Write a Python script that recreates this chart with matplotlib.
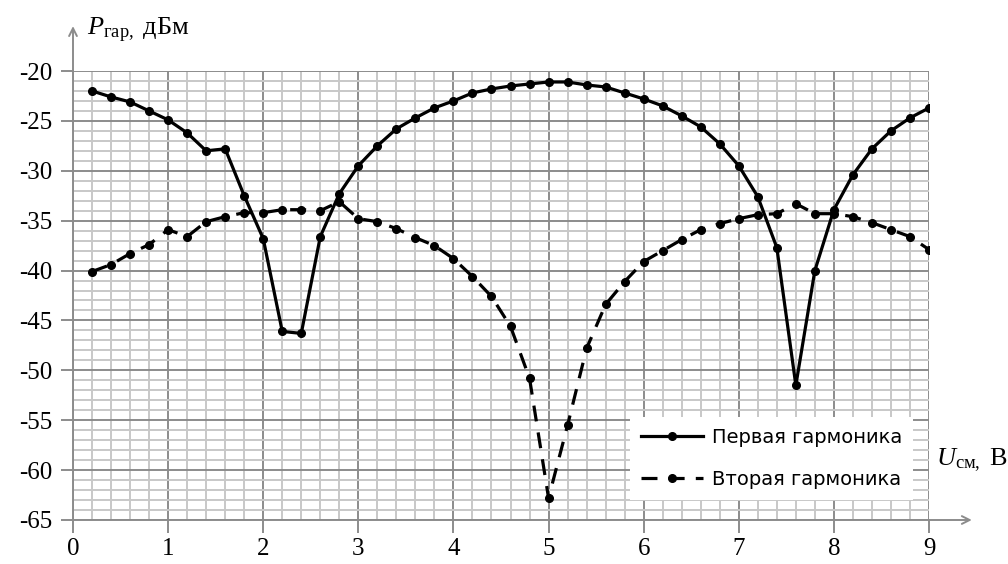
import matplotlib
matplotlib.use("Agg")
import matplotlib.pyplot as plt
from matplotlib.ticker import MultipleLocator

# bias voltage, V
u_bias = [0.2, 0.4, 0.6, 0.8, 1.0, 1.2, 1.4, 1.6, 1.8, 2.0,
          2.2, 2.4, 2.6, 2.8, 3.0, 3.2, 3.4, 3.6, 3.8, 4.0,
          4.2, 4.4, 4.6, 4.8, 5.0, 5.2, 5.4, 5.6, 5.8, 6.0,
          6.2, 6.4, 6.6, 6.8, 7.0, 7.2, 7.4, 7.6, 7.8, 8.0,
          8.2, 8.4, 8.6, 8.8, 9.0]

# first harmonic, dBm
p_first = [-22.0, -22.6, -23.1, -24.0, -24.9, -26.2, -28.0, -27.8, -32.5, -36.8,
           -46.1, -46.3, -36.6, -32.3, -29.5, -27.5, -25.8, -24.7, -23.7, -23.0,
           -22.2, -21.8, -21.5, -21.3, -21.1, -21.1, -21.4, -21.6, -22.2, -22.8,
           -23.5, -24.5, -25.6, -27.3, -29.5, -32.6, -37.7, -51.5, -40.0, -33.9,
           -30.4, -27.8, -26.0, -24.7, -23.7]

# second harmonic, dBm
p_second = [-40.1, -39.4, -38.3, -37.4, -35.9, -36.6, -35.1, -34.6, -34.2, -34.2,
            -33.9, -33.9, -34.0, -33.1, -34.8, -35.1, -35.8, -36.7, -37.5, -38.8,
            -40.6, -42.6, -45.6, -50.8, -62.8, -55.5, -47.8, -43.4, -41.1, -39.1,
            -38.0, -36.9, -35.9, -35.3, -34.8, -34.4, -34.3, -33.3, -34.3, -34.3,
            -34.6, -35.2, -35.9, -36.6, -37.9]

labels = ["Первая гармоника", "Вторая гармоника"]

plt.rcParams["font.family"] = "Liberation Serif"
plt.rcParams["axes.unicode_minus"] = False
plt.rcParams["mathtext.fontset"] = "custom"
plt.rcParams["mathtext.rm"] = "Liberation Serif"
plt.rcParams["mathtext.it"] = "Liberation Serif:italic"

fig = plt.figure(figsize=(10.08, 5.64), dpi=100)
ax = fig.add_axes([73 / 1008, 1 - 520 / 564, 856 / 1008, 449 / 564])

ax.plot(u_bias, p_first, color="black", lw=2.3, marker="o", ms=5.5,
        label=labels[0], zorder=4)
ax.plot(u_bias, p_second, color="black", lw=2.3, marker="o", ms=5.5,
        dashes=(5, 3.5), label=labels[1], zorder=4)

ax.set_xlim(0, 9)
ax.set_ylim(-65, -20)
ax.xaxis.set_major_locator(MultipleLocator(1))
ax.xaxis.set_minor_locator(MultipleLocator(0.2))
ax.yaxis.set_major_locator(MultipleLocator(5))
ax.yaxis.set_minor_locator(MultipleLocator(1))

ax.grid(which="minor", color="#c8c8c8", lw=1.4)
ax.grid(which="major", color="#8c8c8c", lw=1.4)
ax.set_axisbelow(True)

for s in ["top", "right"]:
    ax.spines[s].set_visible(False)
for s in ["left", "bottom"]:
    ax.spines[s].set_color("#8c8c8c")
    ax.spines[s].set_linewidth(1.4)

ax.tick_params(which="major", length=9, width=1.4, color="#8c8c8c",
               labelsize=18)
ax.tick_params(which="minor", length=0)
ax.tick_params(axis="x", pad=4)
ax.tick_params(axis="y", pad=6)

# axis arrows
ax.annotate("", xy=(0, 1.1), xytext=(0, 1.0), xycoords="axes fraction",
            arrowprops=dict(arrowstyle="->", color="#8c8c8c", lw=1.4,
                            mutation_scale=14, shrinkA=0, shrinkB=0))
ax.annotate("", xy=(1.05, 0), xytext=(1.0, 0), xycoords="axes fraction",
            arrowprops=dict(arrowstyle="->", color="#8c8c8c", lw=1.4,
                            mutation_scale=14, shrinkA=0, shrinkB=0))

fig.text(87 / 1008, 1 - 30 / 564, r"$\mathit{P}_{\mathrm{гар,}}$ дБм",
         fontsize=19, va="center", ha="left")
fig.text(936 / 1008, 1 - 460 / 564, r"$\mathit{U}_{\mathrm{см,}}$ В",
         fontsize=19, va="center", ha="left")

leg = ax.legend(loc="lower right", bbox_to_anchor=(0.981, 0.045),
                frameon=True, fancybox=False, edgecolor="white",
                framealpha=1, prop={"family": "DejaVu Sans", "size": 14},
                handlelength=3.2, labelspacing=1.2, handletextpad=0.45,
                borderpad=0.55, borderaxespad=0)
leg.get_frame().set_linewidth(0)

fig.savefig("out.png", dpi=100)
